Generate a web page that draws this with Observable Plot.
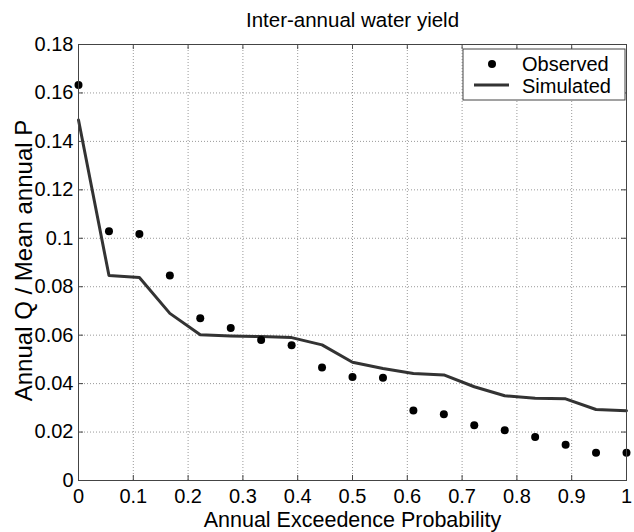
<!DOCTYPE html>
<html>
<head>
<meta charset="utf-8">
<script src="https://cdn.jsdelivr.net/npm/d3@7"></script>
<script src="https://cdn.jsdelivr.net/npm/@observablehq/plot@0.6"></script>
<style>
  html, body { margin: 0; padding: 0; background: #fff; }
  #chart { width: 634px; height: 532px; }
</style>
</head>
<body>
<div id="chart"></div>
<script>
const chartTitle = "Inter-annual water yield";
const xLabel = "Annual Exceedence Probability";
const yLabel = "Annual Q / Mean annual P";
const seriesNames = ["Observed", "Simulated"];

const xTicks = [0, 0.1, 0.2, 0.3, 0.4, 0.5, 0.6, 0.7, 0.8, 0.9, 1];
const xTickLabels = ["0", "0.1", "0.2", "0.3", "0.4", "0.5", "0.6", "0.7", "0.8", "0.9", "1"];
const yTicks = [0, 0.02, 0.04, 0.06, 0.08, 0.1, 0.12, 0.14, 0.16, 0.18];
const yTickLabels = ["0", "0.02", "0.04", "0.06", "0.08", "0.1", "0.12", "0.14", "0.16", "0.18"];

const probability = [0, 0.0556, 0.1111, 0.1667, 0.2222, 0.2778, 0.3333, 0.3889, 0.4444, 0.5,
  0.5556, 0.6111, 0.6667, 0.7222, 0.7778, 0.8333, 0.8889, 0.9444, 1];
const observed = [0.1633, 0.1029, 0.1018, 0.0846, 0.0670, 0.0630, 0.0580, 0.0558, 0.0466, 0.0427,
  0.0424, 0.0289, 0.0273, 0.0228, 0.0207, 0.0180, 0.0148, 0.0115, 0.0115];
const simulated = [0.1488, 0.0846, 0.0838, 0.0690, 0.0602, 0.0597, 0.0594, 0.0590, 0.0560, 0.0488,
  0.0462, 0.0442, 0.0436, 0.0387, 0.0350, 0.0340, 0.0337, 0.0293, 0.0288];

const table = probability.map((p, i) => ({p, obs: observed[i], sim: simulated[i]}));

const W = 634, H = 532;
const mL = 78, mR = 8, mT = 44, mB = 52;
const frameH = H - mT - mB, frameW = W - mL - mR;
const tickLen = 5;
const axisColor = "#444";
const fontFamily = "'Liberation Sans', Arial, Helvetica, sans-serif";

const plot = Plot.plot({
  width: W,
  height: H,
  marginLeft: mL,
  marginRight: mR,
  marginTop: mT,
  marginBottom: mB,
  style: {fontFamily, background: "#fff", color: "#000"},
  x: {domain: [0, 1], axis: null},
  y: {domain: [0, 0.18], axis: null},
  marks: [
    Plot.gridX(xTicks, {stroke: "#999", strokeOpacity: 1, strokeDasharray: "1,2", strokeWidth: 1}),
    Plot.gridY(yTicks, {stroke: "#999", strokeOpacity: 1, strokeDasharray: "1,2", strokeWidth: 1}),
    Plot.line(table, {x: "p", y: "sim", stroke: "#333", strokeWidth: 3}),
    Plot.dot(table, {x: "p", y: "obs", r: 4, fill: "#000", stroke: "none"}),
    Plot.frame({stroke: axisColor, strokeWidth: 1}),
    Plot.tickX(xTicks, {x: d => d, insetTop: frameH - tickLen, stroke: axisColor}),
    Plot.tickX(xTicks, {x: d => d, insetBottom: frameH - tickLen, stroke: axisColor}),
    Plot.tickY(yTicks, {y: d => d, insetRight: frameW - tickLen, stroke: axisColor}),
    Plot.tickY(yTicks, {y: d => d, insetLeft: frameW - tickLen, stroke: axisColor}),
    Plot.axisX(xTicks, {anchor: "bottom", tickSize: 0, tickPadding: 8, fontSize: 20,
      tickFormat: d => xTickLabels[xTicks.indexOf(d)], label: null}),
    Plot.axisY(yTicks, {anchor: "left", tickSize: 0, tickPadding: 5, fontSize: 20,
      tickFormat: d => yTickLabels[yTicks.indexOf(d)], label: null}),
    Plot.text([chartTitle], {frameAnchor: "top", textAnchor: "middle", lineAnchor: "middle",
      dy: -24.5, fontSize: 20.5, fill: "#000"}),
    Plot.text([xLabel], {frameAnchor: "bottom", textAnchor: "middle", lineAnchor: "middle",
      dy: 40, fontSize: 21.5, fill: "#000"}),
    Plot.text([yLabel], {frameAnchor: "left", textAnchor: "middle", lineAnchor: "middle",
      rotate: -90, dx: -54, dy: -2, fontSize: 24, fill: "#000"})
  ]
});

document.getElementById("chart").appendChild(plot);

// Legend (top-right, inside plot area)
const svg = d3.select(plot);
const lg = svg.append("g").attr("font-family", fontFamily).attr("font-size", 20)
  .attr("text-anchor", "start");
const bx = 463, by = 49, bw = 162, bh = 51;
lg.append("rect").attr("x", bx).attr("y", by).attr("width", bw).attr("height", bh)
  .attr("fill", "#fff").attr("stroke", axisColor).attr("stroke-width", 1);
lg.append("circle").attr("cx", 492).attr("cy", 64).attr("r", 4).attr("fill", "#000");
lg.append("line").attr("x1", 474).attr("x2", 509).attr("y1", 85).attr("y2", 85)
  .attr("stroke", "#333").attr("stroke-width", 3);
lg.append("text").attr("x", 522).attr("y", 64).attr("dy", "0.35em").attr("fill", "#000").text(seriesNames[0]);
lg.append("text").attr("x", 522).attr("y", 86).attr("dy", "0.35em").attr("fill", "#000").text(seriesNames[1]);
</script>
</body>
</html>
